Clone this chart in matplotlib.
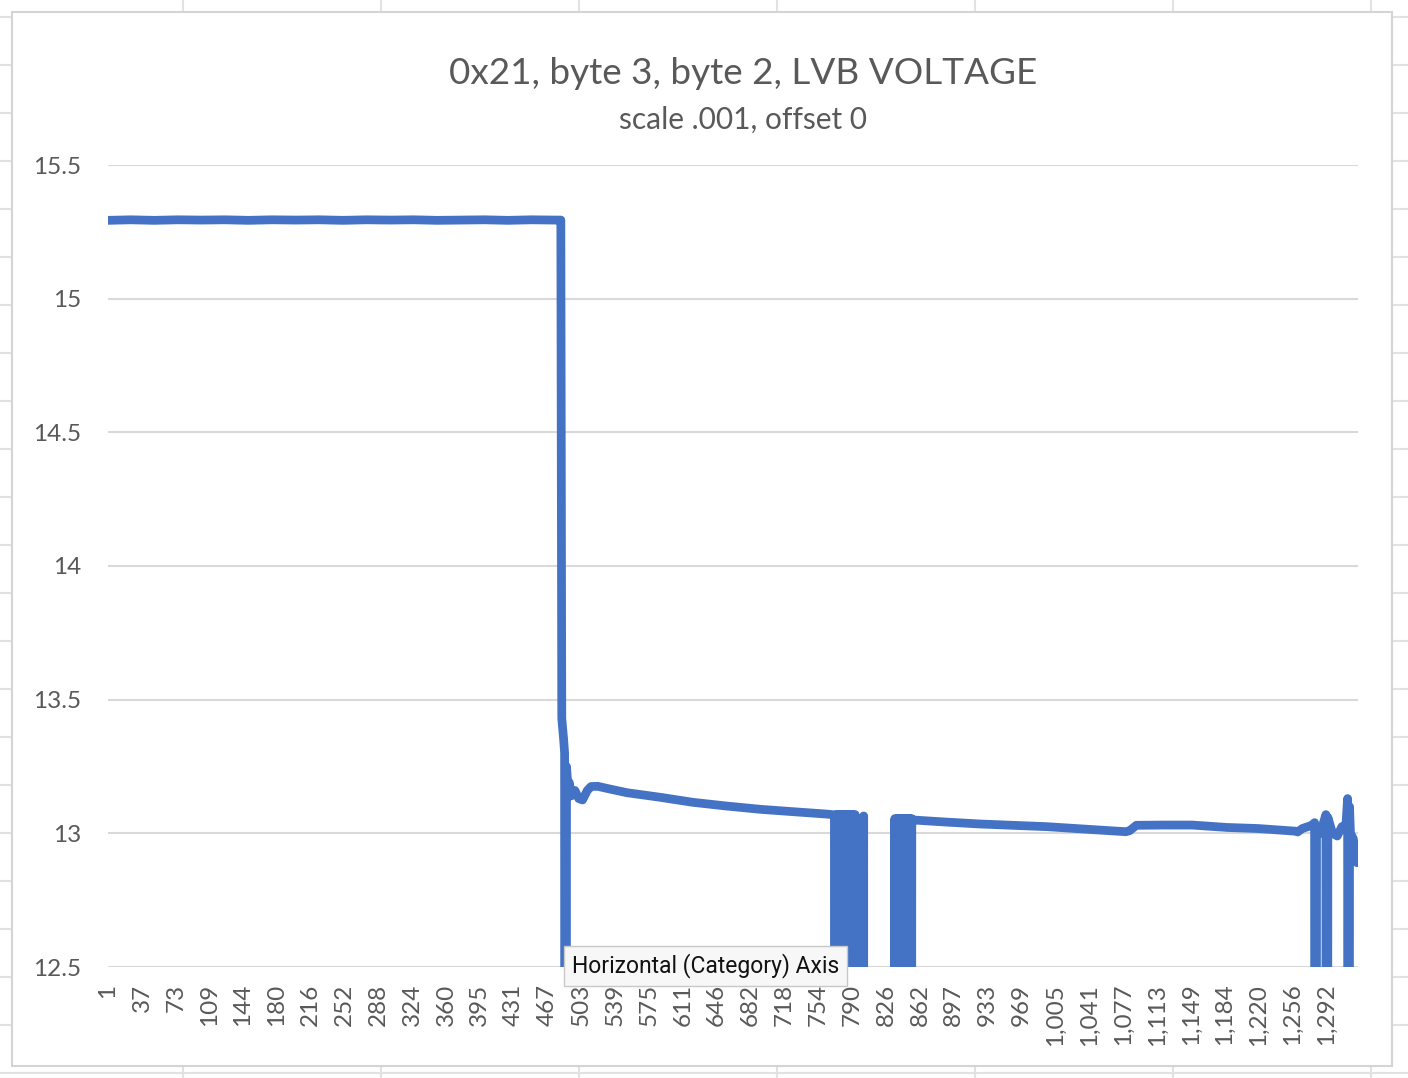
import matplotlib
matplotlib.use("Agg")
import matplotlib.pyplot as plt
from matplotlib.lines import Line2D
from matplotlib.patches import Rectangle

# sample number (category) and LVB voltage; 0.0 = dropout below the axis
sample_no = [
    1, 25, 50, 75, 100, 125, 150, 175, 200, 225, 250, 275, 300, 325, 350, 375, 400, 425, 450, 475, 481,
    482, 484, 485, 486, 487, 489, 490, 492, 496, 500, 504, 509, 513, 520, 530, 551, 586, 621, 657, 692,
    727, 763, 771,
    772, 773, 774, 775, 776, 777, 778, 779, 780, 781, 782, 783, 784, 785, 786, 787, 788, 789, 790, 791,
    792, 793, 794,
    801, 802, 803, 834,
    835, 836, 837, 838, 839, 840, 841, 842, 843, 844, 845, 846, 847, 848, 849, 850, 851, 852, 853,
    854, 890, 925, 960, 996, 1040, 1080, 1084, 1091, 1120, 1150, 1187, 1220, 1260, 1262, 1267, 1277,
    1280, 1281, 1282, 1286, 1292, 1293, 1294, 1299, 1304, 1309, 1313, 1315, 1316, 1317, 1318, 1321,
    1325,
]
lvb_voltage = [
    15.293, 15.295, 15.293, 15.295, 15.294, 15.295, 15.293, 15.295, 15.294, 15.295, 15.293, 15.295,
    15.294, 15.295, 15.293, 15.294, 15.295, 15.293, 15.295, 15.294, 15.294,
    13.43, 13.35, 13.30, 0.0, 13.25, 13.15, 13.19, 13.14, 13.16, 13.13, 13.125, 13.16, 13.175, 13.176,
    13.168, 13.152, 13.135, 13.116, 13.102, 13.09,
    13.081, 13.072, 13.069,
    0.0, 13.07, 0.0, 13.07, 0.0, 13.07, 0.0, 13.07, 0.0, 13.07, 0.0, 13.07, 0.0, 13.07, 0.0, 13.07,
    0.0, 13.07, 0.0, 13.07, 0.0, 13.07, 0.0,
    0.0, 13.065, 0.0, 0.0,
    13.055, 0.0, 13.055, 0.0, 13.055, 0.0, 13.055, 0.0, 13.055, 0.0, 13.055, 0.0, 13.055, 0.0, 13.055,
    0.0, 13.055, 0.0, 13.055,
    13.05, 13.042, 13.035, 13.03, 13.025, 13.015, 13.006, 13.01, 13.03, 13.031, 13.031, 13.022, 13.018,
    13.008, 13.005, 13.018, 13.03,
    13.04, 0.0, 13.02, 13.0, 13.07, 0.0, 13.06, 13.0, 12.99, 13.025, 13.02, 13.13, 0.0, 13.1, 13.0,
    12.98,
    12.89,
]

x_ticks = [1, 37, 73, 109, 144, 180, 216, 252, 288, 324, 360, 395, 431, 467, 503, 539, 575, 611,
           646, 682, 718, 754, 790, 826, 862, 897, 933, 969, 1005, 1041, 1077, 1113, 1149, 1184,
           1220, 1256, 1292]
y_ticks = [12.5, 13, 13.5, 14, 14.5, 15, 15.5]

W, H = 1408, 1078
plt.rcParams['font.family'] = ['Lato', 'DejaVu Sans']

fig = plt.figure(figsize=(W / 100, H / 100), dpi=100)
fig.patch.set_facecolor('white')

def fx(px):
    return px / W

def fy(py):
    return 1 - py / H

# spreadsheet cell grid behind the chart
grid_col = '#E2E2E2'
for gx in range(183, W, 198):
    fig.add_artist(Line2D([fx(gx), fx(gx)], [0, 1], color=grid_col, lw=1.5, zorder=0))
for gy in range(17, H, 48):
    fig.add_artist(Line2D([0, 1], [fy(gy), fy(gy)], color=grid_col, lw=1.5, zorder=0))

# chart area
fig.add_artist(Rectangle((fx(12), fy(1066)), fx(1392) - fx(12), fy(12) - fy(1066),
                         facecolor='white', edgecolor='#D4D4D4', lw=1.5, zorder=1))

ax = fig.add_axes([fx(108), fy(967), fx(1358) - fx(108), fy(165) - fy(967)], zorder=2)
ax.set_facecolor('none')

ax.plot(sample_no, lvb_voltage, color='#4472C4', lw=6.3,
        solid_joinstyle='round', solid_capstyle='round', zorder=3)

ax.set_xlim(1, 1326)
ax.set_ylim(12.5, 15.5)
ax.set_yticks(y_ticks)
ax.set_yticklabels([f'{v:g}' for v in y_ticks])
ax.set_xticks(x_ticks)
ax.set_xticklabels([f'{v:,}' for v in x_ticks], rotation=90, va='top', ha='center')
ax.tick_params(axis='both', length=0, labelsize=17.5, labelcolor='#595959')
ax.tick_params(axis='y', pad=19)
ax.tick_params(axis='x', pad=12)
ax.yaxis.grid(True, color='#D9D9D9', lw=1.5)
ax.set_axisbelow(True)
for s in ax.spines.values():
    s.set_visible(False)

fig.text(fx(743), fy(73), '0x21, byte 3, byte 2, LVB VOLTAGE', ha='center', va='center',
         fontsize=26.6, color='#595959', zorder=5)
fig.text(fx(743), fy(120), 'scale .001, offset 0', ha='center', va='center',
         fontsize=21.5, color='#595959', zorder=5)

# hover tooltip captured in the screenshot
fig.text(fx(572), fy(966), 'Horizontal (Category) Axis', ha='left', va='center',
         fontsize=16.5, color='#111111', family=['Roboto', 'DejaVu Sans'], zorder=6,
         bbox=dict(boxstyle='square,pad=0.35', facecolor='#F7F7F7', edgecolor='#C8C8C8', lw=1))

fig.savefig('out.png', dpi=100)
